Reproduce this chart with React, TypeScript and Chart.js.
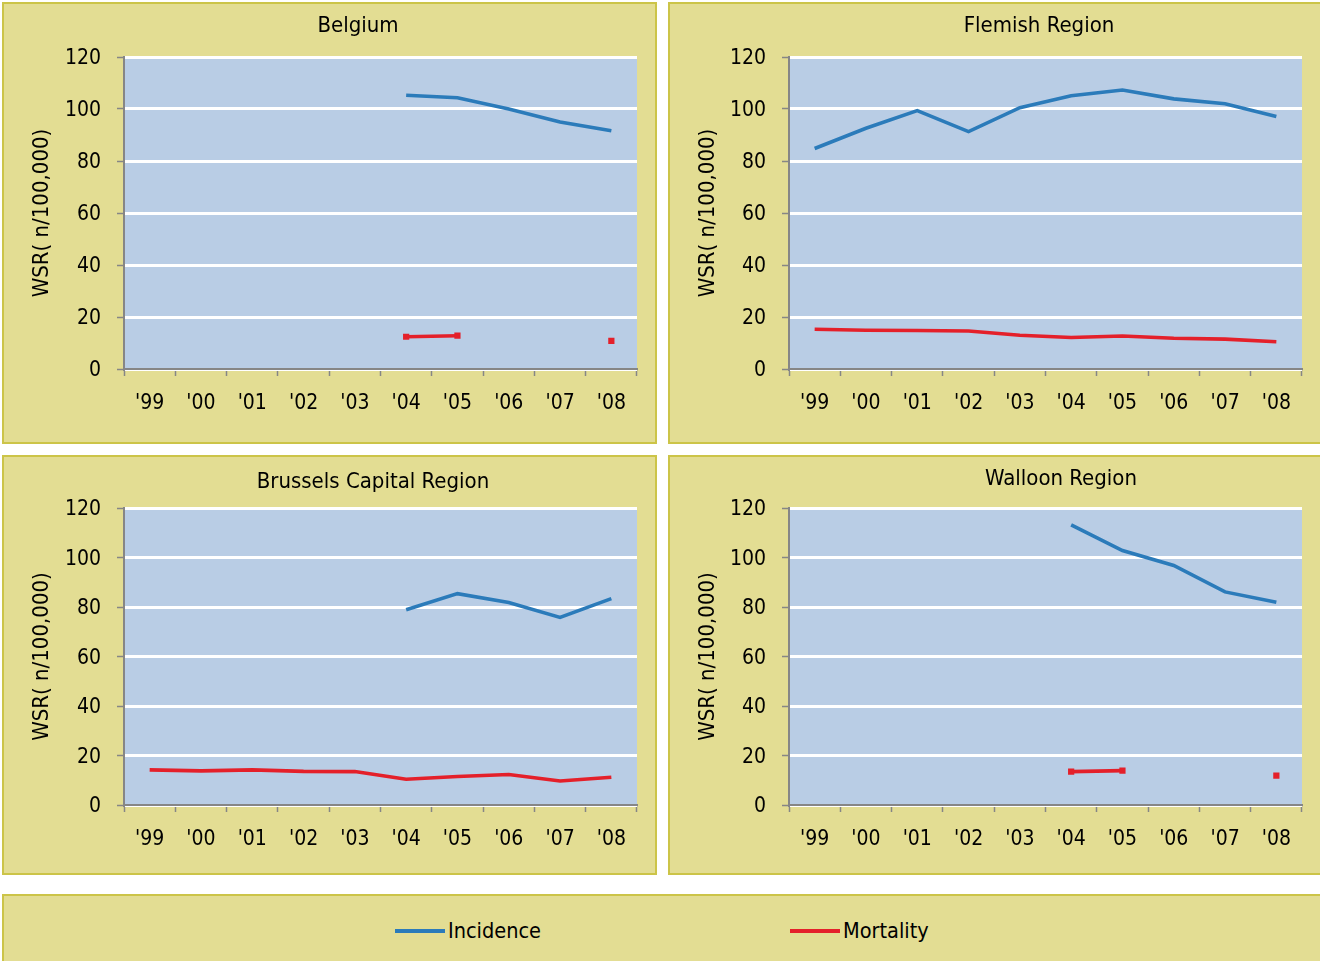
import React, { useEffect, useRef } from "react";
import { Chart, registerables } from "chart.js";

Chart.register(...registerables);

// ---------- data ----------
const years = ["'99", "'00", "'01", "'02", "'03", "'04", "'05", "'06", "'07", "'08"];
const yTicks = [0, 20, 40, 60, 80, 100, 120];
const yAxisTitle = "WSR( n/100,000)";
const seriesNames = ["Incidence", "Mortality"];

const belgiumIncidence = [null, null, null, null, null, 105.3, 104.3, 100.0, 95.0, 91.6];
const belgiumMortality = [null, null, null, null, null, 12.4, 12.8, null, null, 10.8];

const flemishIncidence = [84.8, 92.6, 99.4, 91.3, 100.5, 105.1, 107.3, 103.9, 102.0, 97.1];
const flemishMortality = [15.3, 14.9, 14.8, 14.6, 13.0, 12.1, 12.7, 11.8, 11.5, 10.5];

const brusselsIncidence = [null, null, null, null, null, 78.9, 85.4, 81.8, 75.8, 83.4];
const brusselsMortality = [14.2, 13.8, 14.2, 13.6, 13.5, 10.4, 11.5, 12.3, 9.7, 11.2];

const walloonIncidence = [null, null, null, null, null, 113.2, 102.8, 96.8, 86.1, 81.9];
const walloonMortality = [null, null, null, null, null, 13.5, 13.9, null, null, 11.9];

// ---------- styles ----------
const FONT = '"Liberation Sans Narrow", "Arial Narrow", "DejaVu Sans Condensed", sans-serif';
const PANEL_BG = "#E3DD93";
const PANEL_BORDER = "#CCC448";
const PLOT_BG = "#B9CDE5";
const AXIS = "#868686";
const BLUE = "#2B7BBA";
const RED = "#E4202A";

const TICK_SIZE = 21;
const AXIS_TITLE_SIZE = 22;
const PANEL_TITLE_SIZE = 22;
const LEGEND_SIZE = 21.5;

type PanelCfg = {
  title: string;
  incidence: (number | null)[];
  mortality: (number | null)[];
  markers: boolean;
  x: number; y: number; w: number; h: number;
  chartLeft: number; chartRight: number; chartTop: number; chartBottom: number;
  titleX: number; titleY: number;
};

const panels: PanelCfg[] = [
  { title: "Belgium", incidence: belgiumIncidence, mortality: belgiumMortality, markers: true,
    x: 2, y: 2, w: 655, h: 442, chartLeft: 124, chartRight: 637, chartTop: 57, chartBottom: 369, titleX: 358, titleY: 32 },
  { title: "Flemish Region", incidence: flemishIncidence, mortality: flemishMortality, markers: false,
    x: 668, y: 2, w: 660, h: 442, chartLeft: 789, chartRight: 1302, chartTop: 57, chartBottom: 369, titleX: 1039, titleY: 32 },
  { title: "Brussels Capital Region", incidence: brusselsIncidence, mortality: brusselsMortality, markers: false,
    x: 2, y: 455, w: 655, h: 420, chartLeft: 124, chartRight: 637, chartTop: 508, chartBottom: 805, titleX: 373, titleY: 488 },
  { title: "Walloon Region", incidence: walloonIncidence, mortality: walloonMortality, markers: true,
    x: 668, y: 455, w: 660, h: 420, chartLeft: 789, chartRight: 1302, chartTop: 508, chartBottom: 805, titleX: 1061, titleY: 485 },
];

const Y_TITLE_CENTER_OFFSET = 40; // from panel left to y-title centre

function Panel({ cfg }: { cfg: PanelCfg }) {
  const ref = useRef<HTMLCanvasElement | null>(null);
  useEffect(() => {
    const canvas = ref.current;
    if (!canvas) return;
    const lineH = AXIS_TITLE_SIZE * 1.2;
    const padLeft = Y_TITLE_CENTER_OFFSET - lineH / 2;
    const yWidth = cfg.chartLeft - cfg.x - padLeft;
    const padTop = cfg.chartTop - cfg.y;
    const padRight = cfg.w - (cfg.chartRight - cfg.x);
    const xHeight = cfg.h - (cfg.chartBottom - cfg.y);

    const bgPlugin = {
      id: "plotBg",
      beforeDraw(chart: any) {
        const { ctx, chartArea } = chart;
        ctx.save();
        ctx.fillStyle = PLOT_BG;
        ctx.fillRect(chartArea.left, chartArea.top, chartArea.right - chartArea.left, chartArea.bottom - chartArea.top);
        ctx.restore();
      },
      afterDraw(chart: any) {
        const { ctx } = chart;
        ctx.save();
        ctx.fillStyle = "#000";
        ctx.font = `${PANEL_TITLE_SIZE}px ${FONT}`;
        ctx.textAlign = "center";
        ctx.textBaseline = "alphabetic";
        ctx.fillText(cfg.title, cfg.titleX - cfg.x, cfg.titleY - cfg.y);
        ctx.restore();
      },
    };

    const pointOpts = cfg.markers
      ? { pointRadius: 4.4, pointStyle: "rect", pointBackgroundColor: RED, pointBorderWidth: 0 }
      : { pointRadius: 0 };

    const chart = new Chart(canvas, {
      type: "line",
      data: {
        labels: years,
        datasets: [
          { label: seriesNames[0], data: cfg.incidence, borderColor: BLUE, backgroundColor: BLUE,
            borderWidth: 3.6, pointRadius: 0, tension: 0, spanGaps: false },
          { label: seriesNames[1], data: cfg.mortality, borderColor: RED, backgroundColor: RED,
            borderWidth: 3.6, tension: 0, spanGaps: false, ...pointOpts } as any,
        ],
      },
      options: {
        responsive: false,
        animation: false,
        devicePixelRatio: 1,
        events: [],
        layout: { padding: { left: padLeft, top: padTop, right: padRight, bottom: 0 } },
        plugins: { legend: { display: false }, tooltip: { enabled: false }, title: { display: false } },
        scales: {
          x: {
            type: "category",
            offset: true,
            grid: { offset: true, drawOnChartArea: false, drawTicks: true, tickLength: 7, tickColor: AXIS, tickWidth: 1.5 },
            border: { color: AXIS, width: 2 },
            ticks: { color: "#000", font: { family: FONT, size: TICK_SIZE }, padding: 15, maxRotation: 0, autoSkip: false },
            afterFit: (s: any) => { s.height = xHeight; },
          },
          y: {
            type: "linear",
            min: 0,
            max: 120,
            afterBuildTicks: (s: any) => { s.ticks = yTicks.map((v) => ({ value: v })); },
            grid: { color: "#FFFFFF", lineWidth: 3, drawTicks: true, tickLength: 7, tickColor: AXIS, tickWidth: 1.5 },
            border: { color: AXIS, width: 2 },
            ticks: { color: "#000", font: { family: FONT, size: TICK_SIZE }, padding: 16, labelOffset: 2 },
            title: { display: true, text: yAxisTitle, color: "#000", font: { family: FONT, size: AXIS_TITLE_SIZE }, padding: { top: 0, bottom: 0 } },
            afterFit: (s: any) => { s.width = yWidth; },
          },
        },
      } as any,
      plugins: [bgPlugin],
    });
    return () => chart.destroy();
  }, [cfg]);

  return (
    <>
      <div
        style={{
          position: "absolute", left: cfg.x, top: cfg.y, width: cfg.w, height: cfg.h,
          boxSizing: "border-box", background: PANEL_BG, border: `2px solid ${PANEL_BORDER}`,
        }}
      />
      <canvas
        ref={ref}
        width={cfg.w}
        height={cfg.h}
        style={{ position: "absolute", left: cfg.x, top: cfg.y, width: cfg.w, height: cfg.h }}
      />
    </>
  );
}

function LegendItem({ left, color, text }: { left: number; color: string; text: string }) {
  return (
    <div style={{ position: "absolute", left, top: 916, height: 30, display: "flex", alignItems: "center" }}>
      <span style={{ display: "inline-block", width: 50, height: 4, background: color, marginRight: 3 }} />
      <span style={{ fontFamily: FONT, fontSize: LEGEND_SIZE, color: "#000", lineHeight: "30px" }}>{text}</span>
    </div>
  );
}

export default function App() {
  return (
    <div style={{ position: "absolute", left: 0, top: 0, width: 1320, height: 961, overflow: "hidden", background: "#FFFFFF" }}>
      {panels.map((p) => (
        <Panel key={p.title} cfg={p} />
      ))}
      <div
        style={{
          position: "absolute", left: 2, top: 894, width: 1330, height: 80,
          boxSizing: "border-box", background: PANEL_BG, border: `2px solid ${PANEL_BORDER}`,
        }}
      />
      <LegendItem left={395} color={BLUE} text={seriesNames[0]} />
      <LegendItem left={790} color={RED} text={seriesNames[1]} />
    </div>
  );
}
